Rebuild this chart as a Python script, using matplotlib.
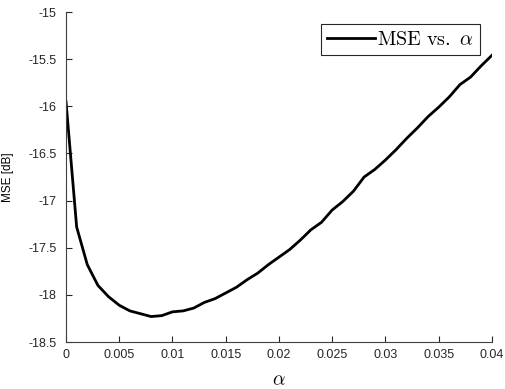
import numpy as np
import matplotlib
matplotlib.use('Agg')
import matplotlib.pyplot as plt

plt.rcParams['mathtext.fontset'] = 'cm'
plt.rcParams['font.family'] = ['Liberation Sans', 'DejaVu Sans']

alpha = np.arange(41) * 0.001
mse_db = [-15.95, -17.28, -17.68, -17.90, -18.02, -18.11, -18.17, -18.20, -18.23, -18.22,
          -18.18, -18.17, -18.14, -18.08, -18.04, -17.98, -17.92, -17.84, -17.77, -17.68,
          -17.60, -17.52, -17.42, -17.31, -17.23, -17.10, -17.01, -16.90, -16.75, -16.67,
          -16.57, -16.46, -16.34, -16.23, -16.11, -16.01, -15.90, -15.77, -15.69, -15.57,
          -15.46]

fig = plt.figure(figsize=(5.05, 3.89), dpi=100)
ax = fig.add_axes([0.1307, 0.1208, 0.8433, 0.8483])

ax.plot(alpha, mse_db, color='black', linewidth=2, label=r'$\mathrm{MSE\ vs.}\ \alpha$')

ax.set_xlim(0, 0.04)
ax.set_ylim(-18.5, -15)
ax.set_xticks(np.arange(0, 0.0401, 0.005))
ax.set_xticklabels(['0', '0.005', '0.01', '0.015', '0.02', '0.025', '0.03', '0.035', '0.04'])
ax.set_yticks(np.arange(-18.5, -14.99, 0.5))
ax.set_yticklabels(['-18.5', '-18', '-17.5', '-17', '-16.5', '-16', '-15.5', '-15'])

for side in ['top', 'right']:
    ax.spines[side].set_visible(False)
for side in ['left', 'bottom']:
    ax.spines[side].set_color('#404040')
    ax.spines[side].set_linewidth(0.8)
ax.tick_params(direction='in', length=4, width=0.8, colors='#262626', labelsize=9)
ax.tick_params(axis='x', pad=5)
ax.tick_params(axis='y', pad=7)

ax.set_xlabel(r'$\alpha$', fontsize=14, labelpad=8)
ax.set_ylabel('MSE [dB]', fontsize=8.5, labelpad=10)

leg = ax.legend(loc='upper right', fontsize=14.5, fancybox=False, framealpha=1,
                edgecolor='#262626', handlelength=2.4, handletextpad=0.1,
                borderpad=0.3, borderaxespad=0, bbox_to_anchor=(0.972, 0.964))
leg.get_frame().set_linewidth(0.8)

fig.savefig('out.png', dpi=100)
